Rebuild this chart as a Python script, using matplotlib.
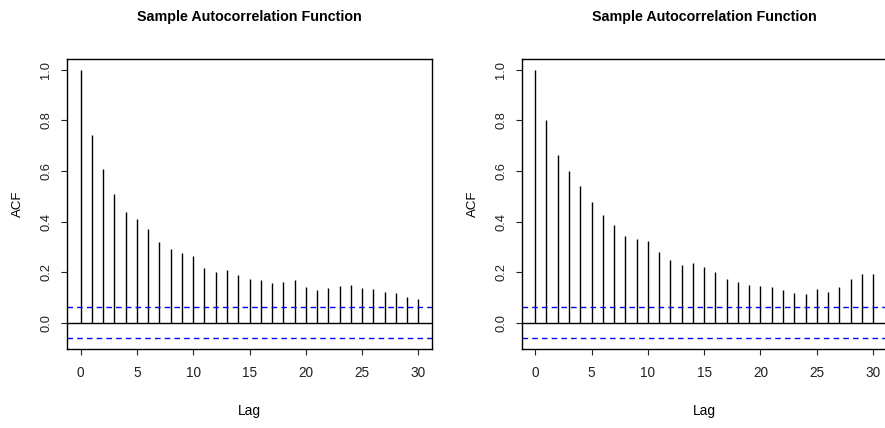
import numpy as np
import matplotlib
matplotlib.use("Agg")
import matplotlib.pyplot as plt

# ACF values, lags 0..30
lags = list(range(31))
acf_left = [1.000, 0.743, 0.609, 0.509, 0.437, 0.411, 0.370, 0.318, 0.293, 0.274,
            0.262, 0.215, 0.199, 0.207, 0.187, 0.174, 0.167, 0.159, 0.163, 0.170,
            0.143, 0.128, 0.139, 0.147, 0.151, 0.139, 0.135, 0.121, 0.118, 0.102,
            0.095]
acf_right = [1.000, 0.803, 0.665, 0.599, 0.539, 0.478, 0.426, 0.387, 0.344, 0.330,
             0.322, 0.281, 0.248, 0.229, 0.237, 0.219, 0.199, 0.174, 0.163, 0.151,
             0.147, 0.143, 0.128, 0.118, 0.113, 0.132, 0.121, 0.143, 0.174, 0.192,
             0.192]
conf_bound = 0.062  # ~ 1.96 / sqrt(n)

title = "Sample Autocorrelation Function"
x_ticks = [0, 5, 10, 15, 20, 25, 30]
y_ticks = [0.0, 0.2, 0.4, 0.6, 0.8, 1.0]

plt.rcParams['font.family'] = ['Liberation Sans', 'DejaVu Sans']

W, H = 885, 428
fig = plt.figure(figsize=(W / 100, H / 100), dpi=100)

# axes boxes in pixels: (left, top, right, bottom)
boxes = [(67, 59.3, 432, 349), (521.7, 59.3, 886.6, 349)]


def draw_acf(ax, values):
    ax.vlines(lags, 0, values, color='black', linewidth=1.0)
    ax.axhline(0, color='black', linewidth=1.0)
    ax.axhline(conf_bound, color='#0000ff', linestyle=(0, (4, 3)), linewidth=1.0)
    ax.axhline(-conf_bound, color='#0000ff', linestyle=(0, (4, 3)), linewidth=1.0)

    ax.set_xlim(-1.2, 31.2)
    ax.set_ylim(-0.104, 1.042)
    ax.set_xticks(x_ticks)
    ax.set_xticklabels([str(v) for v in x_ticks], fontsize=9.8)
    ax.set_yticks(y_ticks)
    ax.set_yticklabels([f"{v:.1f}" for v in y_ticks], rotation=90, va='center',
                       fontsize=9.3)
    ax.tick_params(direction='out', length=4.5, width=0.8, colors='#222222')
    ax.tick_params(axis='x', pad=8)
    ax.tick_params(axis='y', pad=6)
    for s in ax.spines.values():
        s.set_linewidth(1.0)
        s.set_color('black')

    ax.set_ylabel('ACF', fontsize=9.5, va='center')
    ax.yaxis.set_label_coords(-0.134, 0.5)
    ax.set_xlabel('Lag', fontsize=9.8, va='center')
    ax.xaxis.set_label_coords(0.5, -0.214)
    ax.text(0.5, 1 + 42 / 289.7, title, transform=ax.transAxes,
            ha='center', va='center', fontsize=10.3, fontweight='bold')


for (l, t, r, b), vals in zip(boxes, [acf_left, acf_right]):
    ax = fig.add_axes([l / W, 1 - b / H, (r - l) / W, (b - t) / H])
    draw_acf(ax, vals)

fig.savefig("out.png", dpi=100)
